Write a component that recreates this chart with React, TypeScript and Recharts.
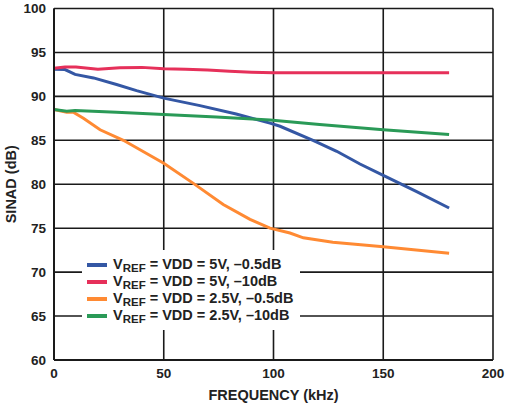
import React from 'react';
import { LineChart, Line, XAxis, YAxis, CartesianGrid } from 'recharts';

const xTicks = [0, 50, 100, 150, 200];
const yTicks = [60, 65, 70, 75, 80, 85, 90, 95, 100];

const blue5V05 = [
  { f: 0, v: 93.1 }, { f: 5, v: 93.05 }, { f: 9.6, v: 92.5 }, { f: 18, v: 92.1 },
  { f: 28.5, v: 91.35 }, { f: 37.6, v: 90.65 }, { f: 50, v: 89.8 }, { f: 66.5, v: 88.95 },
  { f: 83, v: 88.0 }, { f: 98.4, v: 86.95 }, { f: 103, v: 86.6 }, { f: 118, v: 85.0 },
  { f: 128.8, v: 83.75 }, { f: 139.4, v: 82.3 }, { f: 150, v: 81.0 }, { f: 165, v: 79.2 },
  { f: 180, v: 77.3 },
];

const red5V10 = [
  { f: 0, v: 93.2 }, { f: 5, v: 93.35 }, { f: 10, v: 93.35 }, { f: 20, v: 93.1 },
  { f: 30, v: 93.25 }, { f: 40, v: 93.3 }, { f: 50, v: 93.15 }, { f: 60, v: 93.1 },
  { f: 70, v: 93.0 }, { f: 80, v: 92.85 }, { f: 90, v: 92.75 }, { f: 100, v: 92.7 },
  { f: 120, v: 92.7 }, { f: 150, v: 92.7 }, { f: 180, v: 92.7 },
];

const orange25V05 = [
  { f: 0, v: 88.5 }, { f: 5.8, v: 88.2 }, { f: 8.8, v: 88.2 }, { f: 13.4, v: 87.5 },
  { f: 21, v: 86.2 }, { f: 31.6, v: 85.0 }, { f: 50, v: 82.4 }, { f: 63.5, v: 80.1 },
  { f: 77.1, v: 77.7 }, { f: 89.3, v: 76.0 }, { f: 98.4, v: 75.0 }, { f: 107.5, v: 74.45 },
  { f: 113.6, v: 73.9 }, { f: 127, v: 73.4 }, { f: 150, v: 72.9 }, { f: 180, v: 72.15 },
];

const green25V10 = [
  { f: 0, v: 88.5 }, { f: 5.8, v: 88.3 }, { f: 9.6, v: 88.4 }, { f: 28.5, v: 88.2 },
  { f: 50, v: 87.95 }, { f: 74, v: 87.65 }, { f: 98.4, v: 87.3 }, { f: 121, v: 86.8 },
  { f: 150, v: 86.2 }, { f: 180, v: 85.65 },
];

const seriesNames = [
  { sub: '5V, \u20130.5dB', color: '#3457a4' },
  { sub: '5V, \u201310dB', color: '#e6305a' },
  { sub: '2.5V, \u20130.5dB', color: '#ff8a33' },
  { sub: '2.5V, \u201310dB', color: '#2a9a57' },
];

const font = '"Liberation Sans", Arial, sans-serif';

const LegendBox = () => (
  <div
    style={{
      position: 'absolute',
      left: 82,
      top: 250,
      background: '#fff',
      width: 218,
      height: 80,
      boxSizing: 'border-box',
      paddingTop: 6,
      paddingLeft: 5,
      fontFamily: font,
      fontWeight: 'bold',
      fontSize: 14.5,
      color: '#222',
    }}
  >
    {seriesNames.map((s) => (
      <div key={s.sub} style={{ height: 17, lineHeight: '17px', display: 'flex', alignItems: 'center', whiteSpace: 'nowrap' }}>
        <span style={{ display: 'inline-block', width: 20, height: 4, background: s.color, marginRight: 6 }} />
        <span>
          V<span style={{ fontSize: 11.5, position: 'relative', top: 3 }}>REF</span> = VDD = {s.sub}
        </span>
      </div>
    ))}
  </div>
);

const YLabel = (props: any) => {
  const vb = props.viewBox || {};
  const x = (vb.x || 0) + 11;
  const y = (vb.y || 0) + (vb.height || 0) / 2;
  return (
    <text x={x} y={y} transform={`rotate(-90 ${x} ${y})`} textAnchor="middle" dominantBaseline="central"
      fontFamily={font} fontWeight="bold" fontSize={14.5} fill="#222">SINAD (dB)</text>
  );
};

const XLabel = (props: any) => {
  const vb = props.viewBox || {};
  const x = (vb.x || 0) + (vb.width || 0) / 2;
  const y = (vb.y || 0) + 35;
  return (
    <text x={x} y={y} textAnchor="middle" dominantBaseline="central"
      fontFamily={font} fontWeight="bold" fontSize={14.5} fill="#222">FREQUENCY (kHz)</text>
  );
};

export default function App() {
  const tickStyle = { fontFamily: font, fontWeight: 'bold' as const, fontSize: 13.5, fill: '#222' };
  return (
    <div style={{ position: 'absolute', left: 0, top: 0, width: 507, height: 405, background: '#fff' }}>
      <LineChart width={507} height={405} margin={{ top: 8.5, right: 14, left: 0, bottom: 0 }}>
        <CartesianGrid stroke="#1a1a1a" strokeWidth={1.6} />
        <XAxis
          type="number"
          dataKey="f"
          domain={[0, 200]}
          ticks={xTicks}
          tickLine={false}
          axisLine={{ stroke: '#1a1a1a', strokeWidth: 2 }}
          tick={tickStyle}
          height={45}
          interval={0}
          label={<XLabel />}
        />
        <YAxis
          type="number"
          domain={[60, 100]}
          ticks={yTicks}
          tickLine={false}
          axisLine={{ stroke: '#1a1a1a', strokeWidth: 2 }}
          tick={tickStyle}
          width={54}
          interval={0}
          label={<YLabel />}
        />
        <Line data={blue5V05} dataKey="v" stroke={seriesNames[0].color} strokeWidth={3} dot={false} isAnimationActive={false} />
        <Line data={red5V10} dataKey="v" stroke={seriesNames[1].color} strokeWidth={3} dot={false} isAnimationActive={false} />
        <Line data={orange25V05} dataKey="v" stroke={seriesNames[2].color} strokeWidth={3} dot={false} isAnimationActive={false} />
        <Line data={green25V10} dataKey="v" stroke={seriesNames[3].color} strokeWidth={3} dot={false} isAnimationActive={false} />
      </LineChart>
      <LegendBox />
    </div>
  );
}
